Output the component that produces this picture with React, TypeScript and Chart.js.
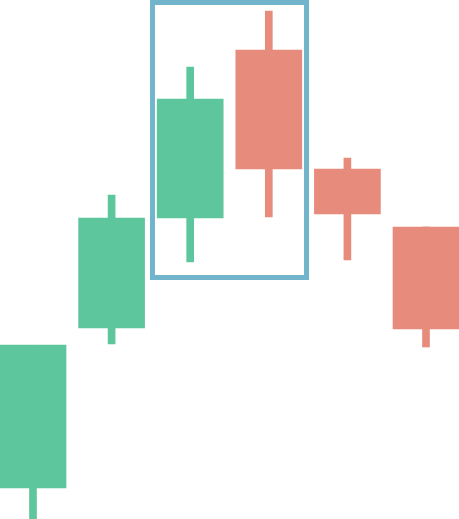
import { useEffect, useRef } from "react"
import { Chart, registerables } from "chart.js"

Chart.register(...registerables)

// Candles (value units)
const labels = ["1", "2", "3", "4", "5", "6"]
const opens = [3.1, 19.1, 30.1, 46.9, 35.0, 29.2]
const closes = [17.4, 30.1, 42.0, 35.0, 30.5, 19.0]
const highs = [17.3, 32.4, 45.2, 50.8, 36.1, 29.2]
const lows = [0, 17.5, 25.7, 30.2, 25.9, 17.2]

// Highlighted range (candle indexes and value bounds)
const highlightFrom = 2
const highlightTo = 3
const highlightTop = 51.65
const highlightBottom = 24.15

const UP = "#5ec69d"
const DOWN = "#e78b7d"
const FRAME = "#72b4cc"

const candleColor = (i: number) => (closes[i] >= opens[i] ? UP : DOWN)

const highlightPlugin = {
  id: "highlightBox",
  afterDatasetsDraw(chart: any) {
    const { ctx, scales } = chart
    const x = scales.x
    const y = scales.y
    const left = x.getPixelForValue(highlightFrom - 0.48)
    const right = x.getPixelForValue(highlightTo + 0.48)
    const top = y.getPixelForValue(highlightTop)
    const bottom = y.getPixelForValue(highlightBottom)
    ctx.save()
    ctx.strokeStyle = FRAME
    ctx.lineWidth = 5
    ctx.strokeRect(left, top, right - left, bottom - top)
    ctx.restore()
  },
}

const CandleChart = () => {
  const chartRef = useRef<HTMLCanvasElement>(null)
  const chartInstance = useRef<Chart | null>(null)

  useEffect(() => {
    document.body.style.margin = "0"
    if (!chartRef.current) return
    const ctx = chartRef.current.getContext("2d")
    if (!ctx) return

    if (chartInstance.current) chartInstance.current.destroy()

    chartInstance.current = new Chart(ctx, {
      type: "bar",
      data: {
        labels,
        datasets: [
          {
            label: "wick",
            data: labels.map((_, i) => [lows[i], Math.max(highs[i], Math.max(opens[i], closes[i]) - 0.1)]) as any,
            backgroundColor: labels.map((_, i) => candleColor(i)),
            barThickness: 7,
            grouped: false,
            clip: false as any,
          },
          {
            label: "body",
            data: labels.map((_, i) => [opens[i], closes[i]]) as any,
            backgroundColor: labels.map((_, i) => candleColor(i)),
            barThickness: 66,
            grouped: false,
            clip: false as any,
          },
        ],
      },
      options: {
        responsive: true,
        maintainAspectRatio: false,
        animation: false,
        layout: { padding: { left: 33, right: 33, top: 0, bottom: 0 } },
        plugins: {
          legend: { display: false },
          tooltip: { enabled: false },
        },
        scales: {
          x: { display: false, offset: false },
          y: { display: false, min: 0, max: 51.9 },
        },
      },
      plugins: [highlightPlugin],
    })

    return () => {
      if (chartInstance.current) {
        chartInstance.current.destroy()
        chartInstance.current = null
      }
    }
  }, [])

  return (
    <div style={{ position: "relative", width: 459, height: 519 }}>
      <canvas ref={chartRef} />
    </div>
  )
}

export default function App() {
  return <CandleChart />
}
